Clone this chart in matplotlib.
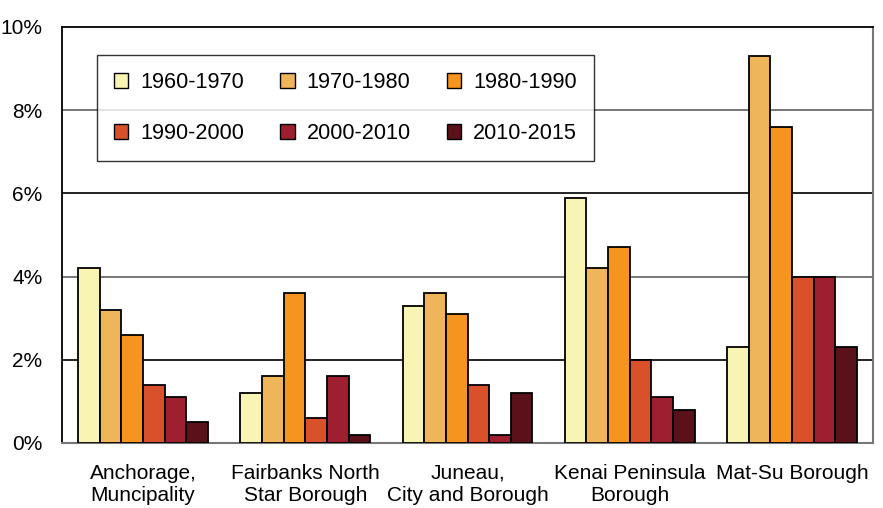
import numpy as np
import matplotlib
matplotlib.use('Agg')
from matplotlib import pyplot as plt
from matplotlib.patches import Patch

plt.rcParams['font.family'] = ['Liberation Sans', 'DejaVu Sans']

boroughs = ['Anchorage,\nMuncipality', 'Fairbanks North\nStar Borough', 'Juneau,\nCity and Borough',
            'Kenai Peninsula\nBorough', 'Mat-Su Borough']
periods = ['1960-1970', '1970-1980', '1980-1990', '1990-2000', '2000-2010', '2010-2015']

g1960 = [4.2, 1.2, 3.3, 5.9, 2.3]
g1970 = [3.2, 1.6, 3.6, 4.2, 9.3]
g1980 = [2.6, 3.6, 3.1, 4.7, 7.6]
g1990 = [1.4, 0.6, 1.4, 2.0, 4.0]
g2000 = [1.1, 1.6, 0.2, 1.1, 4.0]
g2010 = [0.5, 0.2, 1.2, 0.8, 2.3]

yticks = [0, 2, 4, 6, 8, 10]

colors = ['#F8F4B4', '#EEB55A', '#F5941F', '#D9512B', '#9E1F2F', '#5A111A']
series = [g1960, g1970, g1980, g1990, g2000, g2010]

fig = plt.figure(figsize=(8.83, 5.08), dpi=100)
ax = fig.add_axes([0.0702, 0.128, 0.9185, 0.8189])

x = np.arange(len(boroughs))
width = 0.8 / len(periods)
for i, (vals, c) in enumerate(zip(series, colors)):
    ax.bar(x - 0.4 + width * (i + 0.5), vals, width, color=c, edgecolor='black',
           linewidth=1.3, zorder=3)

ax.set_xlim(-0.5, len(boroughs) - 0.5)
ax.set_ylim(0, 10)
for t in yticks[1:-1]:
    ax.axhline(t, color='#222222' if t in (2, 6) else '#777777', linewidth=1.4, zorder=1)

ax.set_yticks(yticks)
ax.set_yticklabels([f'{t}%' for t in yticks])
ax.set_xticks(x)
ax.set_xticklabels(boroughs, linespacing=1.2)
ax.tick_params(axis='y', length=0, pad=14, labelsize=15)
ax.tick_params(axis='x', length=0, pad=15, labelsize=15)

for s in ['left', 'top']:
    ax.spines[s].set_color('black')
    ax.spines[s].set_linewidth(1.3)
for s in ['right', 'bottom']:
    ax.spines[s].set_color('#777777')
    ax.spines[s].set_linewidth(1.5)

# legend filled row by row: 3 columns, 2 rows
order = [0, 3, 1, 4, 2, 5]
handles = [Patch(facecolor=colors[k], edgecolor='black', linewidth=1) for k in order]
labels = [periods[k] for k in order]
leg = ax.legend(handles, labels, ncol=3, loc='upper left', bbox_to_anchor=(0.043, 0.9325),
                fontsize=15.6, frameon=True, fancybox=False, handlelength=0.68, handleheight=0.68,
                handletextpad=0.55, columnspacing=1.65, labelspacing=1.38, borderpad=0.78,
                borderaxespad=0)
leg.get_frame().set_edgecolor('black')
leg.get_frame().set_linewidth(1.0)
leg.set_zorder(5)

fig.savefig('out.png', dpi=100)
